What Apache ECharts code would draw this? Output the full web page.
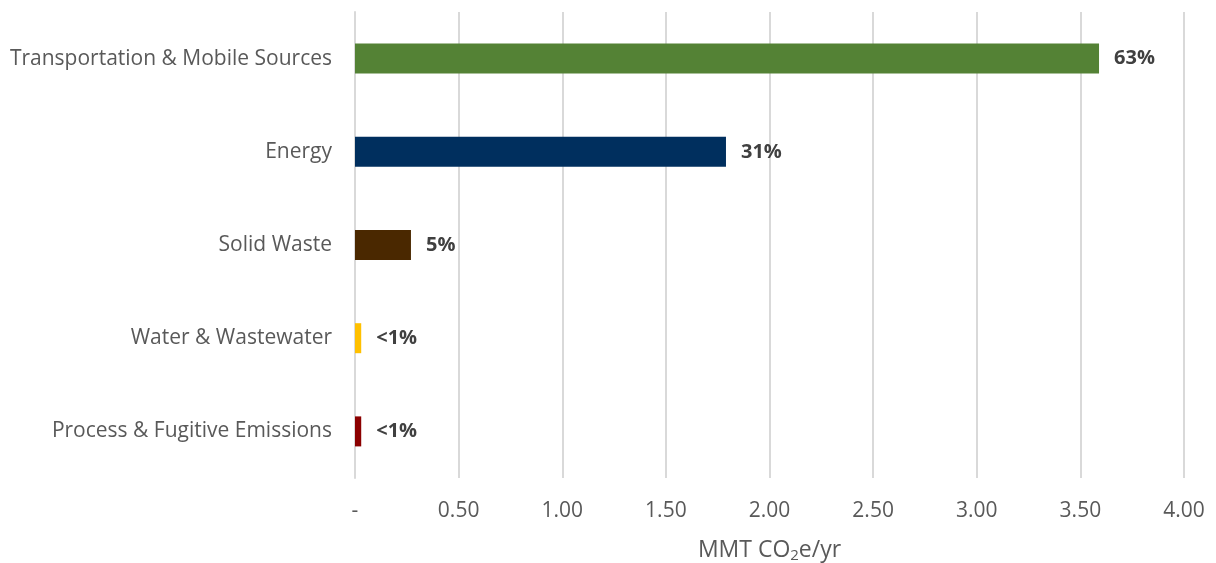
<!DOCTYPE html>
<html>
<head>
<meta charset="utf-8">
<script src="https://cdn.jsdelivr.net/npm/echarts@6/dist/echarts.min.js"></script>
<style>
  html, body { margin: 0; padding: 0; background: #fff; }
  #chart { width: 1216px; height: 563px; }
</style>
</head>
<body>
<div id="chart"></div>
<script>
// Sectors, listed top to bottom
const categories = [
  'Transportation & Mobile Sources',
  'Energy',
  'Solid Waste',
  'Water & Wastewater',
  'Process & Fugitive Emissions'
];
// Annual emissions per sector, MMT CO2e/yr
const emissions = [3.59, 1.79, 0.27, 0.03, 0.03];
// Share of total, shown at the end of each bar
const shareLabels = ['63%', '31%', '5%', '<1%', '<1%'];
const barColors = ['#548235', '#002f5e', '#4a2800', '#ffc000', '#8b0000'];

const FONT = '"Open Sans", sans-serif';

const chart = echarts.init(document.getElementById('chart'));
chart.setOption({
  animation: false,
  grid: {
    left: 355, right: 32, top: 12, bottom: 85,
    containLabel: false,
    outerBoundsMode: 'none'
  },
  xAxis: {
    type: 'value',
    min: 0,
    max: 4,
    interval: 0.5,
    axisLine: { show: false },
    axisTick: { show: false },
    splitLine: { show: true, lineStyle: { color: '#d9d9d9', width: 2 } },
    axisLabel: {
      margin: 23,
      color: '#595959',
      fontFamily: FONT,
      fontSize: 21,
      formatter: v => (v === 0 ? '-' : v.toFixed(2))
    },
    name: '{t|MMT CO}{s|2}{t|e/yr}',
    nameLocation: 'middle',
    nameGap: 53,
    nameTextStyle: {
      rich: {
        t: { color: '#595959', fontFamily: FONT, fontSize: 23, height: 26 },
        s: { color: '#595959', fontFamily: FONT, fontSize: 15, height: 26, padding: [12, 0, 0, 0] }
      }
    }
  },
  yAxis: {
    type: 'category',
    inverse: true,
    data: categories,
    axisLine: { show: true, lineStyle: { color: '#d9d9d9', width: 2 } },
    axisTick: { show: false },
    axisLabel: {
      margin: 23,
      color: '#595959',
      fontFamily: FONT,
      fontSize: 21
    }
  },
  series: [{
    type: 'bar',
    barWidth: 30,
    data: emissions.map((v, i) => ({
      value: v,
      itemStyle: { color: barColors[i] }
    })),
    label: {
      show: true,
      position: 'right',
      distance: 15,
      color: '#404040',
      fontFamily: FONT,
      fontWeight: 'bold',
      fontSize: 20,
      formatter: p => shareLabels[p.dataIndex]
    }
  }]
});
</script>
</body>
</html>
